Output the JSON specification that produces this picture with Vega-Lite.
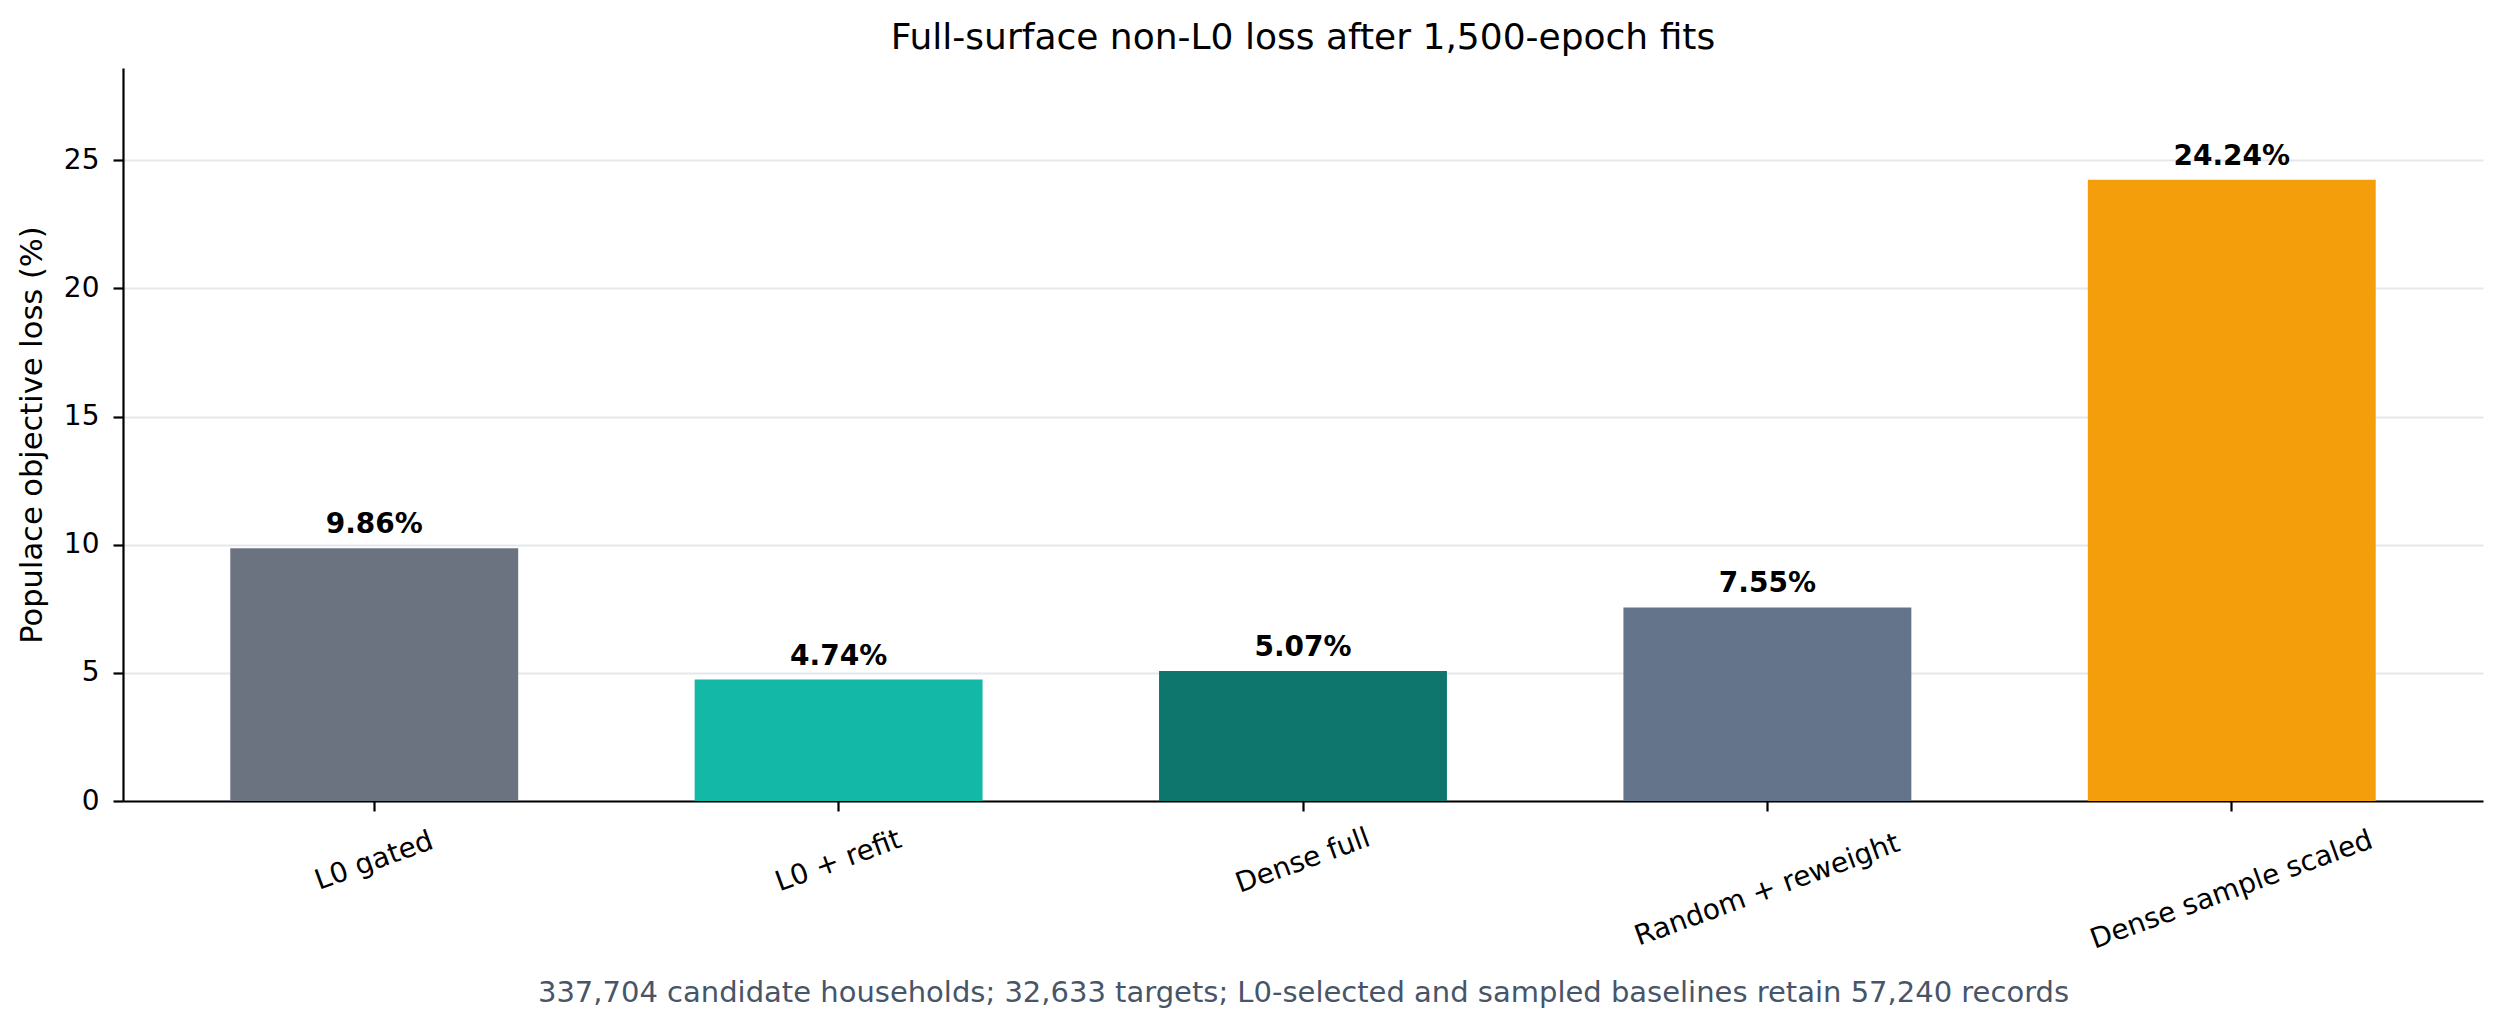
{
  "$schema": "https://vega.github.io/schema/vega-lite/v6.json",
  "description": "Full-surface non-L0 loss, bar chart with value labels",
  "autosize": {"type": "none"},
  "padding": {"left": 123, "top": 68, "right": 24, "bottom": 226},
  "width": 2360,
  "height": 733,
  "background": "white",
  "title": {
    "text": "Full-surface non-L0 loss after 1,500-epoch fits",
    "font": "DejaVu Sans",
    "fontSize": 36,
    "fontWeight": "normal",
    "color": "black",
    "anchor": "middle",
    "offset": 11
  },
  "config": {
    "view": {"stroke": null},
    "font": "DejaVu Sans"
  },
  "data": {
    "values": [
      {"method": "L0 gated", "loss": 9.86, "label": "9.86%"},
      {"method": "L0 + refit", "loss": 4.74, "label": "4.74%"},
      {"method": "Dense full", "loss": 5.07, "label": "5.07%"},
      {"method": "Random + reweight", "loss": 7.55, "label": "7.55%"},
      {"method": "Dense sample scaled", "loss": 24.24, "label": "24.24%"}
    ]
  },
  "encoding": {
    "x": {
      "field": "method",
      "type": "nominal",
      "sort": null,
      "scale": {"paddingInner": 0.38, "paddingOuter": 0.231},
      "axis": {
        "title": "337,704 candidate households; 32,633 targets; L0-selected and sampled baselines retain 57,240 records",
        "titleFont": "DejaVu Sans",
        "titleFontSize": 29,
        "titleFontWeight": "normal",
        "titleColor": "#475569",
        "titlePadding": 24,
        "labelAngle": -20,
        "labelAlign": "center",
        "labelBaseline": "middle",
        "labelFontSize": 28,
        "labelColor": "black",
        "labelPadding": {
          "condition": {"test": "datum.value == 'Random + reweight' || datum.value == 'Dense sample scaled'", "value": 79},
          "value": 50
        },
        "labelLimit": 0,
        "domainColor": "black",
        "domainWidth": 2.2,
        "tickColor": "black",
        "tickWidth": 2.2,
        "tickSize": 10,
        "grid": false
      }
    },
    "y": {
      "field": "loss",
      "type": "quantitative",
      "scale": {"domain": [0, 28.6], "nice": false, "zero": true},
      "axis": {
        "title": "Populace objective loss (%)",
        "titleFont": "DejaVu Sans",
        "titleFontSize": 30.5,
        "titleFontWeight": "normal",
        "titleColor": "black",
        "titlePadding": 16,
        "values": [0, 5, 10, 15, 20, 25],
        "labelFontSize": 28,
        "labelColor": "black",
        "labelPadding": 14,
        "domainColor": "black",
        "domainWidth": 2.2,
        "tickColor": "black",
        "tickWidth": 2.2,
        "tickSize": 10,
        "grid": true,
        "gridColor": "#e5e7eb",
        "gridWidth": 2.2
      }
    }
  },
  "layer": [
    {
      "mark": {"type": "bar"},
      "encoding": {
        "color": {
          "field": "method",
          "type": "nominal",
          "scale": {
            "domain": ["L0 gated", "L0 + refit", "Dense full", "Random + reweight", "Dense sample scaled"],
            "range": ["#6b7280", "#14b8a6", "#0f766e", "#64748b", "#f59e0b"]
          },
          "legend": null
        }
      }
    },
    {
      "mark": {
        "type": "text",
        "baseline": "alphabetic",
        "align": "center",
        "dy": -15,
        "fontSize": 28,
        "fontWeight": "bold",
        "color": "black"
      },
      "encoding": {
        "text": {"field": "label", "type": "nominal"}
      }
    }
  ]
}
